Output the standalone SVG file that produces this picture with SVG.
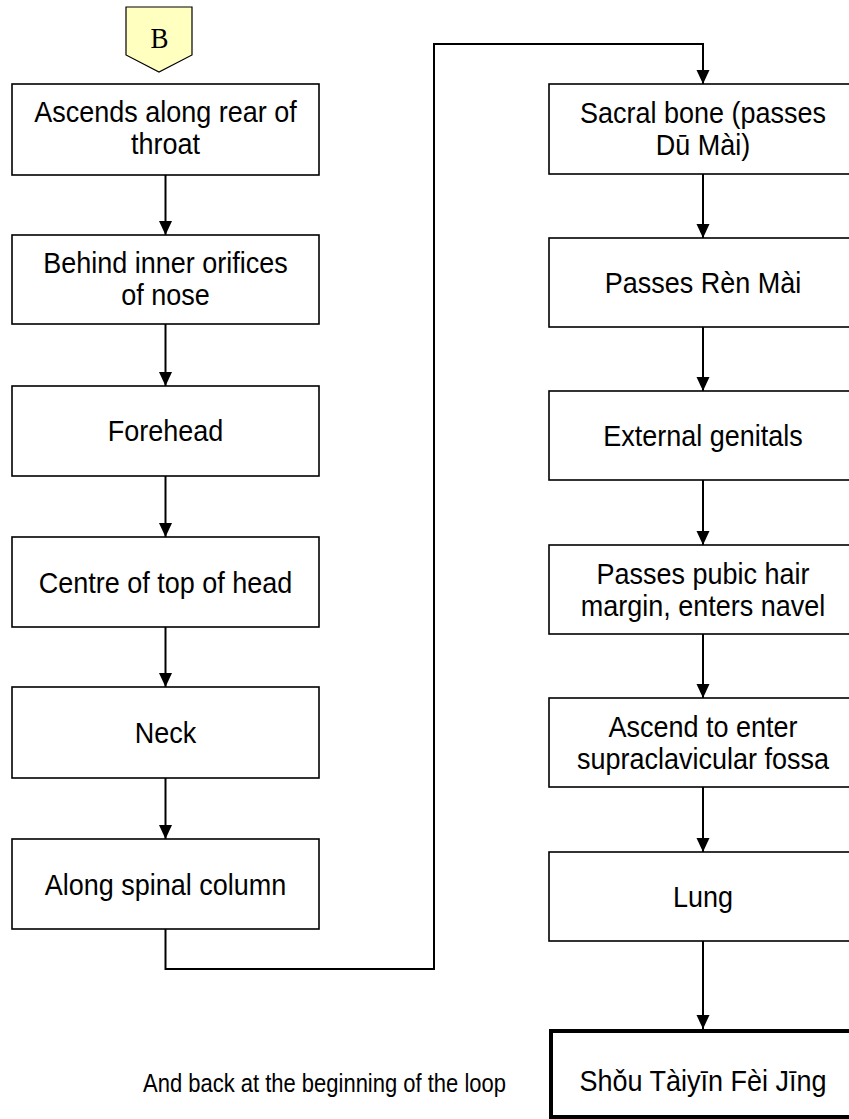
<svg xmlns="http://www.w3.org/2000/svg" width="849" height="1119" viewBox="0 0 849 1119">
<style>
.box{fill:#fff;stroke:#000;stroke-width:1.6}
.thick{fill:#fff;stroke:#000;stroke-width:4}
.t{font-family:"Liberation Sans",Arial,sans-serif;font-size:27px;fill:#000;text-anchor:middle}
.lbl{font-family:"Liberation Sans",Arial,sans-serif;font-size:22px;fill:#000}
.c{fill:none;stroke:#000;stroke-width:2}
</style>
<defs>
<marker id="ah" markerUnits="userSpaceOnUse" markerWidth="14" markerHeight="14" viewBox="0 0 14 13" refX="14" refY="6.5" orient="auto">
<path d="M0,0 L14,6.5 L0,13 Z" fill="#000"/>
</marker>
</defs>
<rect width="849" height="1119" fill="#fff"/>
<g id="connectors">
<line class="c" x1="165.5" y1="175" x2="165.5" y2="235" marker-end="url(#ah)"/>
<line class="c" x1="165.5" y1="324" x2="165.5" y2="386" marker-end="url(#ah)"/>
<line class="c" x1="165.5" y1="476" x2="165.5" y2="537" marker-end="url(#ah)"/>
<line class="c" x1="165.5" y1="627" x2="165.5" y2="687" marker-end="url(#ah)"/>
<line class="c" x1="165.5" y1="778" x2="165.5" y2="839" marker-end="url(#ah)"/>
<polyline class="c" points="165.5,929 165.5,969 434,969 434,44 703,44 703,84" marker-end="url(#ah)"/>
<line class="c" x1="703" y1="174" x2="703" y2="238" marker-end="url(#ah)"/>
<line class="c" x1="703" y1="327" x2="703" y2="391" marker-end="url(#ah)"/>
<line class="c" x1="703" y1="480" x2="703" y2="545" marker-end="url(#ah)"/>
<line class="c" x1="703" y1="634" x2="703" y2="698" marker-end="url(#ah)"/>
<line class="c" x1="703" y1="787" x2="703" y2="852" marker-end="url(#ah)"/>
<line class="c" x1="703" y1="941" x2="703" y2="1029" marker-end="url(#ah)"/>
</g>
<g id="B">
<polygon points="126,7 192,7 192,55 159,72 126,55" fill="#ffffc0" stroke="#000" stroke-width="1.2"/>
<text transform="translate(159.5,48) scale(1,1.1)" font-family="'Liberation Serif','Times New Roman',serif" font-size="27" text-anchor="middle">B</text>
</g>
<g id="n1"><rect class="box" x="12" y="84" width="307" height="91"/><text class="t" transform="translate(165.5,122) scale(1,1.1)">Ascends along rear of</text><text class="t" transform="translate(165.5,154) scale(1,1.1)">throat</text></g>
<g id="n2"><rect class="box" x="12" y="235" width="307" height="89"/><text class="t" transform="translate(165.5,273) scale(1,1.1)">Behind inner orifices</text><text class="t" transform="translate(165.5,305) scale(1,1.1)">of nose</text></g>
<g id="n3"><rect class="box" x="12" y="386" width="307" height="90"/><text class="t" transform="translate(165.5,441) scale(1,1.1)">Forehead</text></g>
<g id="n4"><rect class="box" x="12" y="537" width="307" height="90"/><text class="t" transform="translate(165.5,593) scale(1,1.1)">Centre of top of head</text></g>
<g id="n5"><rect class="box" x="12" y="687" width="307" height="91"/><text class="t" transform="translate(165.5,743) scale(1,1.1)">Neck</text></g>
<g id="n6"><rect class="box" x="12" y="839" width="307" height="90"/><text class="t" transform="translate(165.5,895) scale(1,1.1)">Along spinal column</text></g>
<g id="r1"><rect class="box" x="549" y="84" width="310" height="90"/><text class="t" transform="translate(703,123) scale(1,1.1)">Sacral bone (passes</text><text class="t" transform="translate(703,155) scale(1,1.1)">Dū Mài)</text></g>
<g id="r2"><rect class="box" x="549" y="238" width="310" height="89"/><text class="t" transform="translate(703,293) scale(1,1.1)">Passes Rèn Mài</text></g>
<g id="r3"><rect class="box" x="549" y="391" width="310" height="89"/><text class="t" transform="translate(703,446) scale(1,1.1)">External genitals</text></g>
<g id="r4"><rect class="box" x="549" y="545" width="310" height="89"/><text class="t" transform="translate(703,584) scale(1,1.1)">Passes pubic hair</text><text class="t" transform="translate(703,616) scale(1,1.1)">margin, enters navel</text></g>
<g id="r5"><rect class="box" x="549" y="698" width="310" height="89"/><text class="t" transform="translate(703,737) scale(1,1.1)">Ascend to enter</text><text class="t" transform="translate(703,769) scale(1,1.1)">supraclavicular fossa</text></g>
<g id="r6"><rect class="box" x="549" y="852" width="310" height="89"/><text class="t" transform="translate(703,907) scale(1,1.1)">Lung</text></g>
<g id="r7"><rect class="thick" x="551" y="1031" width="310" height="86"/><text class="t" transform="translate(703,1091) scale(1,1.1)">Shǒu Tàiyīn Fèi Jīng</text></g>
<g id="label"><text class="lbl" transform="translate(143,1092) scale(1,1.15)">And back at the beginning of the loop</text></g>
</svg>
